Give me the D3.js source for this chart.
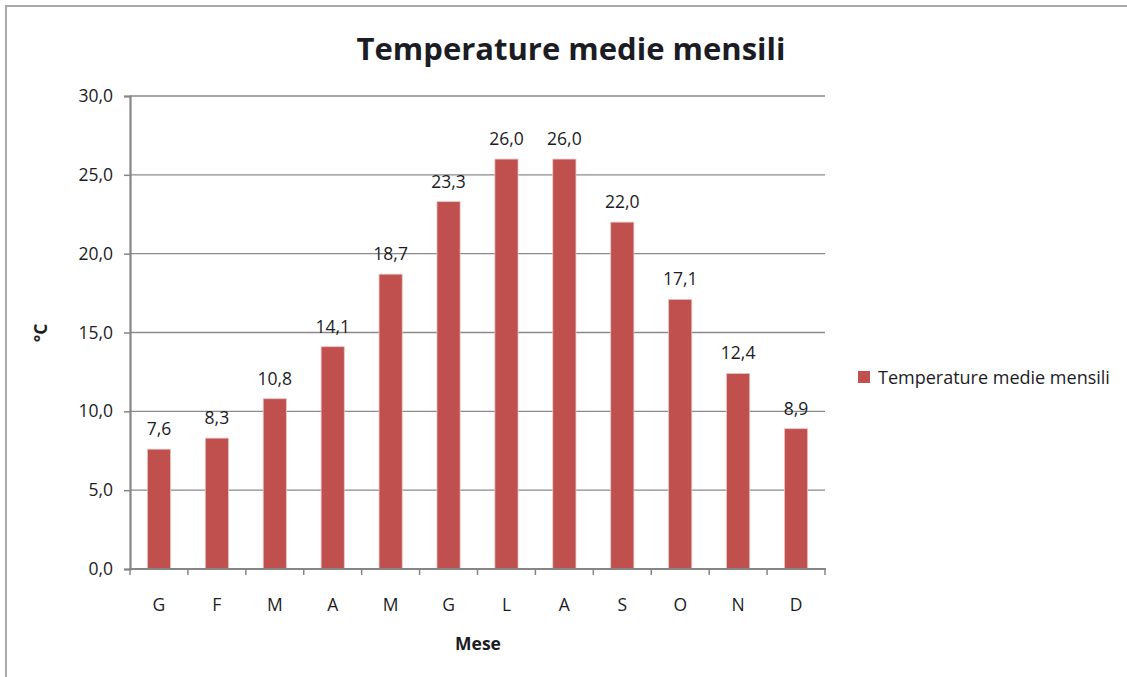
<!DOCTYPE html>
<html>
<head>
<meta charset="utf-8">
<script src="https://cdn.jsdelivr.net/npm/d3@7"></script>
<style>
  html, body { margin: 0; padding: 0; background: #fff; }
  svg { display: block; }
  text { font-family: "Open Sans", "Noto Sans", sans-serif; fill: #1c1c24; }
</style>
</head>
<body>
<svg id="chart" width="1127" height="677"></svg>
<script>
// Monthly mean temperatures
const months = ["G", "F", "M", "A", "M", "G", "L", "A", "S", "O", "N", "D"];
const temperatures = [7.6, 8.3, 10.8, 14.1, 18.7, 23.3, 26.0, 26.0, 22.0, 17.1, 12.4, 8.9];
const yTicks = [0, 5, 10, 15, 20, 25, 30];
const chartTitle = "Temperature medie mensili";
const seriesName = "Temperature medie mensili";
const xTitle = "Mese";
const yTitle = "°C";

const it = d3.formatLocale({ decimal: ",", thousands: ".", grouping: [3], currency: ["€", ""] });
const fmt = it.format(".1f");

const svg = d3.select("#chart");
const plot = { left: 130, right: 825, top: 96, bottom: 569 };
const barColor = "#C0504D";
const gridColor = "#8a8a8a";
const fs = 17.5;

// chart frame
svg.append("path")
  .attr("d", "M6,677 V6 H1127")
  .attr("fill", "none")
  .attr("stroke", "#a9a9a9")
  .attr("stroke-width", 2);

const idx = months.map((_, i) => i);
const x = d3.scaleBand().domain(idx).range([plot.left, plot.right])
  .paddingInner(0.6).paddingOuter(0.3);
const y = d3.scaleLinear().domain([0, 30]).range([plot.bottom, plot.top]);

// horizontal gridlines
svg.append("g").selectAll("line").data(yTicks.filter(v => v > 0)).join("line")
  .attr("x1", plot.left).attr("x2", plot.right)
  .attr("y1", d => y(d)).attr("y2", d => y(d))
  .attr("stroke", gridColor).attr("stroke-width", 1.3);

// bars
svg.append("g").selectAll("rect").data(temperatures).join("rect")
  .attr("x", (d, i) => x(i))
  .attr("width", x.bandwidth())
  .attr("y", d => y(d))
  .attr("height", d => y(0) - y(d))
  .attr("fill", barColor)
  .attr("stroke", "#e9c4c3")
  .attr("stroke-width", 0.8);

// value labels
svg.append("g").selectAll("text").data(temperatures).join("text")
  .attr("x", (d, i) => x(i) + x.bandwidth() / 2)
  .attr("y", d => y(d) - 14)
  .attr("text-anchor", "middle")
  .attr("font-size", fs)
  .text(d => fmt(d));

// y axis
const yAxis = svg.append("g").attr("transform", `translate(${plot.left},0)`)
  .call(d3.axisLeft(y).tickValues(yTicks).tickFormat(fmt).tickSize(6).tickPadding(11));
yAxis.select(".domain").attr("stroke", "#868686").attr("stroke-width", 2.2);
yAxis.selectAll(".tick line").attr("stroke", "#868686").attr("stroke-width", 1.5);
yAxis.selectAll(".tick text").attr("font-size", fs).attr("fill", "#1c1c24")
  .attr("font-family", "'Open Sans', sans-serif");

// x axis with boundary ticks between categories
const xAxisG = svg.append("g");
xAxisG.append("line")
  .attr("x1", plot.left - 1).attr("x2", plot.right + 1)
  .attr("y1", plot.bottom).attr("y2", plot.bottom)
  .attr("stroke", "#868686").attr("stroke-width", 2.2);
const step = x.step();
xAxisG.selectAll("line.b").data(d3.range(months.length + 1)).join("line")
  .attr("class", "b")
  .attr("x1", i => plot.left + i * step).attr("x2", i => plot.left + i * step)
  .attr("y1", plot.bottom).attr("y2", plot.bottom + 6)
  .attr("stroke", "#868686").attr("stroke-width", 1.5);
xAxisG.selectAll("text").data(months).join("text")
  .attr("x", (d, i) => x(i) + x.bandwidth() / 2)
  .attr("y", 611)
  .attr("text-anchor", "middle")
  .attr("font-size", fs)
  .text(d => d);

// titles
svg.append("text")
  .attr("x", 571).attr("y", 60)
  .attr("text-anchor", "middle")
  .attr("font-size", 31).attr("font-weight", 700)
  .attr("fill", "#000")
  .text(chartTitle);

svg.append("text")
  .attr("x", 478).attr("y", 650)
  .attr("text-anchor", "middle")
  .attr("font-size", 17.5).attr("font-weight", 700)
  .text(xTitle);

svg.append("text")
  .attr("transform", "translate(47,333) rotate(-90)")
  .attr("text-anchor", "middle")
  .attr("font-size", 17.5).attr("font-weight", 700)
  .text(yTitle);

// legend
const legend = svg.append("g").attr("transform", "translate(858,371)");
legend.append("rect").attr("width", 12).attr("height", 12).attr("fill", barColor);
legend.append("text").attr("x", 20).attr("y", 13)
  .attr("font-size", 18).text(seriesName);
</script>
</body>
</html>
